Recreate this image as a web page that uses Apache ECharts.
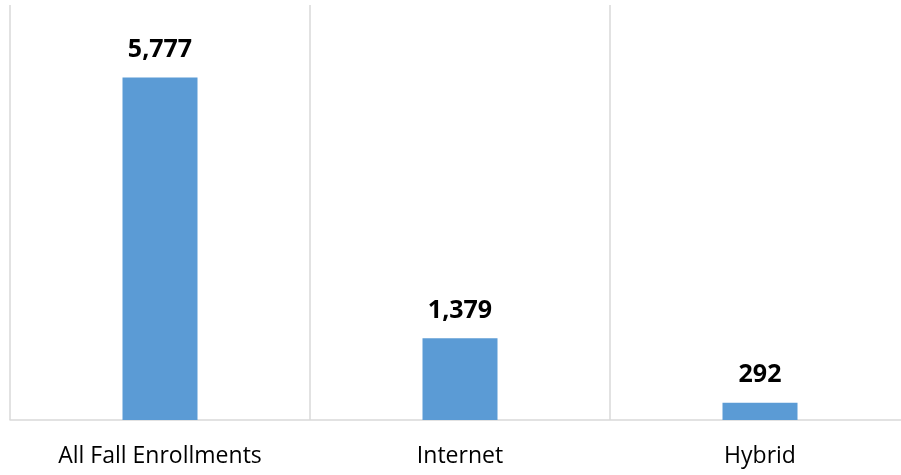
<!DOCTYPE html>
<html><head><meta charset="utf-8">
<script src="https://cdn.jsdelivr.net/npm/echarts@6/dist/echarts.min.js"></script>
<style>html,body{margin:0;padding:0;background:#fff;overflow:hidden;width:901px;height:475px}#c{width:912px;height:475px}</style>
</head><body><div id="c"></div>
<script>
var categories = ["All Fall Enrollments", "Internet", "Hybrid"];
var enrollments = [5777, 1379, 292];

var chart = echarts.init(document.getElementById('c'));
chart.setOption({
  animation: false,
  grid: {left: 10, right: 2, top: 5, bottom: 55, containLabel: false},
  xAxis: {
    type: 'category',
    data: categories,
    boundaryGap: true,
    axisLine: {show: true, lineStyle: {color: '#d9d9d9', width: 1.5}},
    axisTick: {show: false},
    splitLine: {show: true, lineStyle: {color: '#d9d9d9', width: 1.5}},
    axisLabel: {color: '#000', fontFamily: 'Open Sans', fontSize: 23, margin: 25, interval: 0}
  },
  yAxis: {
    type: 'value', min: 0, max: 7000, show: false,
    splitLine: {show: false}
  },
  series: [{
    type: 'bar',
    data: enrollments,
    barWidth: 75,
    itemStyle: {color: '#5b9bd5'},
    label: {
      show: true, position: 'top', distance: 15,
      color: '#000', fontFamily: 'Open Sans', fontWeight: 'bold', fontSize: 25,
      formatter: function(p){ return p.value.toLocaleString('en-US'); }
    }
  }]
});
</script></body></html>
